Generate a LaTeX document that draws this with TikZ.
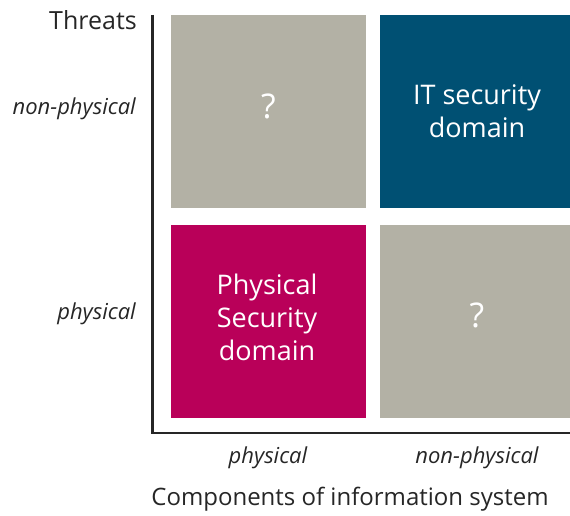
\documentclass[tikz,border=0pt]{standalone}
\usepackage{fontspec}
\setmainfont{Open Sans}
\usetikzlibrary{positioning}

\definecolor{quadgray}{RGB}{179,177,165}
\definecolor{itblue}{RGB}{0,80,115}
\definecolor{physred}{RGB}{185,0,89}

\tikzset{
  quad/.style={minimum width=195, minimum height=193, inner sep=0pt},
  quadtext/.style={inner sep=0pt, text=white, align=center, font=\fontsize{27}{33}\selectfont},
  unknown/.style={inner sep=0pt, text=white, font=\fontsize{34}{40}\selectfont},
  axisline/.style={line width=2.5pt, black!85},
  axislabel/.style={inner sep=0pt, text=black!85, font=\fontsize{24}{28}\selectfont},
  ticklabel/.style={inner sep=0pt, text=black!85, font=\fontsize{22}{26}\selectfont\itshape}
}

\begin{document}
\begin{tikzpicture}[x=1pt,y=-1pt]
\useasboundingbox (0,0) rectangle (570,516);

%Quadrants
\node[quad, fill=quadgray] (nonphysphys) at (268.5,111.5) {};
\node[quad, fill=itblue, minimum width=190] (itdomain) at (475,111.5) {};
\node[quad, fill=physred] (physdomain) at (268.5,321) {};
\node[quad, fill=quadgray, minimum width=190] (physnonphys) at (475,321) {};

%Quadrant texts
\node[unknown] (q1) at (268.5,106) {?};
\node[quadtext] (ittext) at (477,111) {IT security\\domain};
\node[quadtext] (phystext) at (267,317) {Physical\\Security\\domain};
\node[unknown] (q2) at (477,315) {?};

%Axes
\coordinate (ytop) at (152.5,15);
\coordinate (origin) at (152.5,433);
\coordinate (xend) at (570,433);
\draw[axisline] (ytop) -- (origin) -- (xend);

%Threat labels
\node[axislabel, anchor=east, font=\fontsize{25}{30}\selectfont] (threats) at (137,20) {Threats};
\node[ticklabel, anchor=east] (ynonphys) at (136,109) {non-physical};
\node[ticklabel, anchor=east] (yphys) at (136,314) {physical};

%Component labels
\node[ticklabel] (xphys) at (268,458) {physical};
\node[ticklabel] (xnonphys) at (477,458) {non-physical};
\node[axislabel] (components) at (350,499) {Components of information system};

\end{tikzpicture}
\end{document}
